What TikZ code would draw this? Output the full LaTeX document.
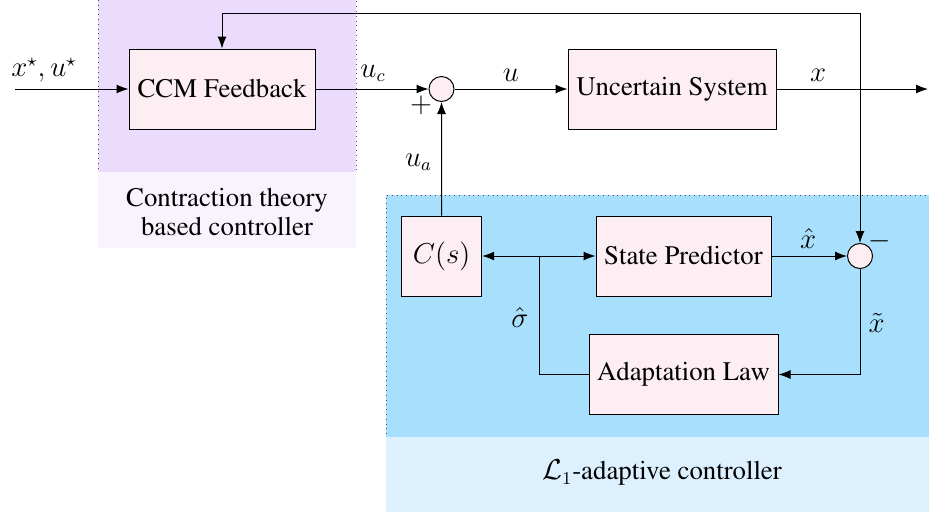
\documentclass[tikz,border=0pt]{standalone}
\usepackage[T1]{fontenc}
\usepackage{times}
\usetikzlibrary{arrows.meta}
\definecolor{purpleA}{RGB}{235,219,252}
\definecolor{purpleB}{RGB}{249,243,254}
\definecolor{blueA}{RGB}{168,223,252}
\definecolor{blueB}{RGB}{220,241,253}
\definecolor{boxfill}{RGB}{252,238,242}
\begin{document}
\begin{tikzpicture}[x=0.5pt,y=-0.5pt,
  every node/.style={font=\fontsize{13.4}{14.5}\selectfont},
  blk/.style={draw,fill=boxfill,line width=0.5pt,minimum height=40pt,inner sep=0pt},
  sumc/.style={draw,fill=boxfill,circle,minimum size=12.5pt,inner sep=0pt,line width=0.5pt},
  conn/.style={line width=0.5pt,-{Latex[length=6pt,width=4.5pt]}},
  wire/.style={line width=0.5pt},
  region/.style={draw=black!70,dotted,line width=0.4pt}]
\useasboundingbox (0,0) rectangle (929,516);
% backgrounds
\fill[purpleA] (98,-5) rectangle (356,172);
\draw[region] (98,-5) -- (98,172) -- (356,172) -- (356,-5);
\fill[purpleB] (98,172) rectangle (356,248);
\fill[blueA] (386,195) rectangle (935,437);
\draw[region] (935,195) -- (386,195) -- (386,437) -- (935,437);
\fill[blueB] (386,437) rectangle (935,512);
\node[align=center] (ctlab) at (227,212) {Contraction theory\\based controller};
\node (l1lab) at (662,473) {$\mathcal{L}_1$-adaptive controller};
% blocks
\node[blk,minimum width=93pt] (ccm) at (222,89) {CCM Feedback};
\node[blk,minimum width=104pt] (us) at (672,89) {Uncertain System};
\node[blk,minimum width=40pt] (cs) at (441.7,256) {$C(s)$};
\node[blk,minimum width=87.5pt] (sp) at (683.5,256) {State Predictor};
\node[blk,minimum width=94.5pt] (al) at (683.5,374.5) {Adaptation Law};
\node[sumc] (s1) at (441.5,89) {};
\node[sumc] (s2) at (860,256) {};
% coordinates
\coordinate (in) at (15,89);
\coordinate (out) at (928,89);
\coordinate (top) at (860,13);
\coordinate (sg) at (539,256);
% connectors
\draw[conn] (in) -- (ccm.west);
\draw[conn] (ccm.east) -- (s1.west);
\draw[conn] (s1.east) -- (us.west);
\draw[conn] (us.east) -- (out);
\draw[conn] (top) -| (ccm.north);
\draw[conn] (top) -- (s2.north);
\draw[conn] (cs.north) -- (s1.south);
\draw[conn] (sp.east) -- (s2.west);
\draw[conn] (s2.south) |- (al.east);
\draw[wire] (al.west) -| (sg);
\draw[conn] (sg) -- (cs.east);
\draw[conn] (sg) -- (sp.west);
% labels
\node (lxu) at (44,70) {$x^\star, u^\star$};
\node (luc) at (373,73) {$u_c$};
\node (lu) at (511,75) {$u$};
\node (lx) at (818,75) {$x$};
\node (lua) at (418.5,162) {$u_a$};
\node (lplus) at (421,105) {$+$};
\node (lminus) at (880,241) {$-$};
\node (lxh) at (808,238) {$\hat{x}$};
\node (lsig) at (520,317) {$\hat{\sigma}$};
\node (lxt) at (876.5,323) {$\tilde{x}$};
\end{tikzpicture}
\end{document}
